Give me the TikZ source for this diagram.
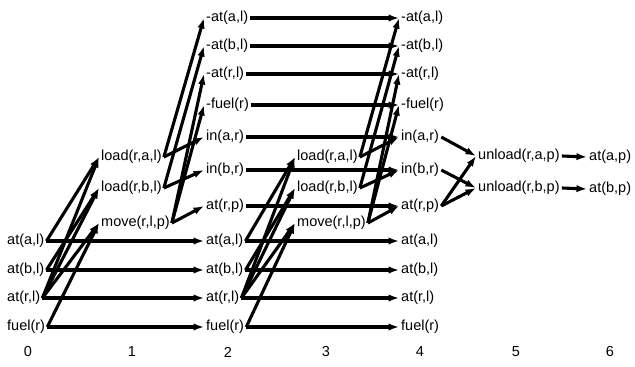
\documentclass[tikz,border=0pt]{standalone}
\usepackage{fontspec}
\setmainfont{Liberation Sans}
\usetikzlibrary{arrows.meta}
\begin{document}
\begin{tikzpicture}[x=1pt,y=-1pt,
  lbl/.style={inner sep=2pt,font=\fontsize{14.5}{16}\selectfont},
  prop/.style={lbl,anchor=west},
  act/.style={lbl,anchor=west},
  num/.style={lbl},
  edge/.style={line width=3.1pt,-{Latex[length=10.5pt,width=7.5pt]}}]
\useasboundingbox (0,0) rectangle (635,367);
% level 0
\node[prop] (p0a) at (5,241) {at(a,l)};
\node[prop] (p0b) at (5,270) {at(b,l)};
\node[prop] (p0r) at (5,298) {at(r,l)};
\node[prop] (p0f) at (5,327) {fuel(r)};
% level 1
\node[act] (a1la) at (99,157) {load(r,a,l)};
\node[act] (a1lb) at (99,188) {load(r,b,l)};
\node[act] (a1m) at (99,223) {move(r,l,p)};
% level 2 and 4
\foreach \L/\X in {2/204,4/399}{
  \node[prop] (p\L na) at (\X,18) {-at(a,l)};
  \node[prop] (p\L nb) at (\X,46) {-at(b,l)};
  \node[prop] (p\L nr) at (\X,74) {-at(r,l)};
  \node[prop] (p\L nf) at (\X,105) {-fuel(r)};
  \node[prop] (p\L ia) at (\X,137) {in(a,r)};
  \node[prop] (p\L ib) at (\X,170) {in(b,r)};
  \node[prop] (p\L rp) at (\X,206) {at(r,p)};
  \node[prop] (p\L a) at (\X,241) {at(a,l)};
  \node[prop] (p\L b) at (\X,270) {at(b,l)};
  \node[prop] (p\L r) at (\X,298) {at(r,l)};
  \node[prop] (p\L f) at (\X,327) {fuel(r)};
}
% level 3
\node[act] (a3la) at (295,157) {load(r,a,l)};
\node[act] (a3lb) at (295,188) {load(r,b,l)};
\node[act] (a3m) at (295,223) {move(r,l,p)};
% level 5
\node[act] (a5ua) at (476,156) {unload(r,a,p)};
\node[act] (a5ub) at (476,188) {unload(r,b,p)};
% level 6
\node[prop] (p6a) at (587,157) {at(a,p)};
\node[prop] (p6b) at (587,189) {at(b,p)};
% column numbers
\node[num] (n0) at (28,352) {0};
\node[num] (n1) at (132,352) {1};
\node[num] (n2) at (228,352) {2};
\node[num] (n3) at (326,352) {3};
\node[num] (n4) at (420,352) {4};
\node[num] (n5) at (516,352) {5};
\node[num] (n6) at (610,352) {6};
% persistence 0 -> 2
\foreach \p in {a,b,r,f}{\draw[edge] (p0\p.east) -- (p2\p.west);}
% persistence 2 -> 4
\foreach \p in {na,nb,nr,nf,ia,ib,rp,a,b,r,f}{\draw[edge] (p2\p.east) -- (p4\p.west);}
% preconditions
\foreach \i/\j in {0/1,2/3}{
  \draw[edge] (p\i a.east) -- (a\j la.west);
  \draw[edge] (p\i r.east) -- (a\j la.west);
  \draw[edge] (p\i b.east) -- (a\j lb.west);
  \draw[edge] (p\i r.east) -- (a\j lb.west);
  \draw[edge] (p\i r.east) -- (a\j m.west);
  \draw[edge] (p\i f.east) -- (a\j m.west);
}
% effects
\foreach \j/\k in {1/2,3/4}{
  \draw[edge] (a\j la.east) -- (p\k na.west);
  \draw[edge] (a\j la.east) -- (p\k ia.west);
  \draw[edge] (a\j lb.east) -- (p\k nb.west);
  \draw[edge] (a\j lb.east) -- (p\k ib.west);
  \draw[edge] (a\j m.east) -- (p\k nr.west);
  \draw[edge] (a\j m.east) -- (p\k nf.west);
  \draw[edge] (a\j m.east) -- (p\k rp.west);
}
% level 4 -> 5 -> 6
\draw[edge] (p4ia.east) -- (a5ua.west);
\draw[edge] (p4rp.east) -- (a5ua.west);
\draw[edge] (p4ib.east) -- (a5ub.west);
\draw[edge] (p4rp.east) -- (a5ub.west);
\draw[edge] (a5ua.east) -- (p6a.west);
\draw[edge] (a5ub.east) -- (p6b.west);
\end{tikzpicture}
\end{document}
